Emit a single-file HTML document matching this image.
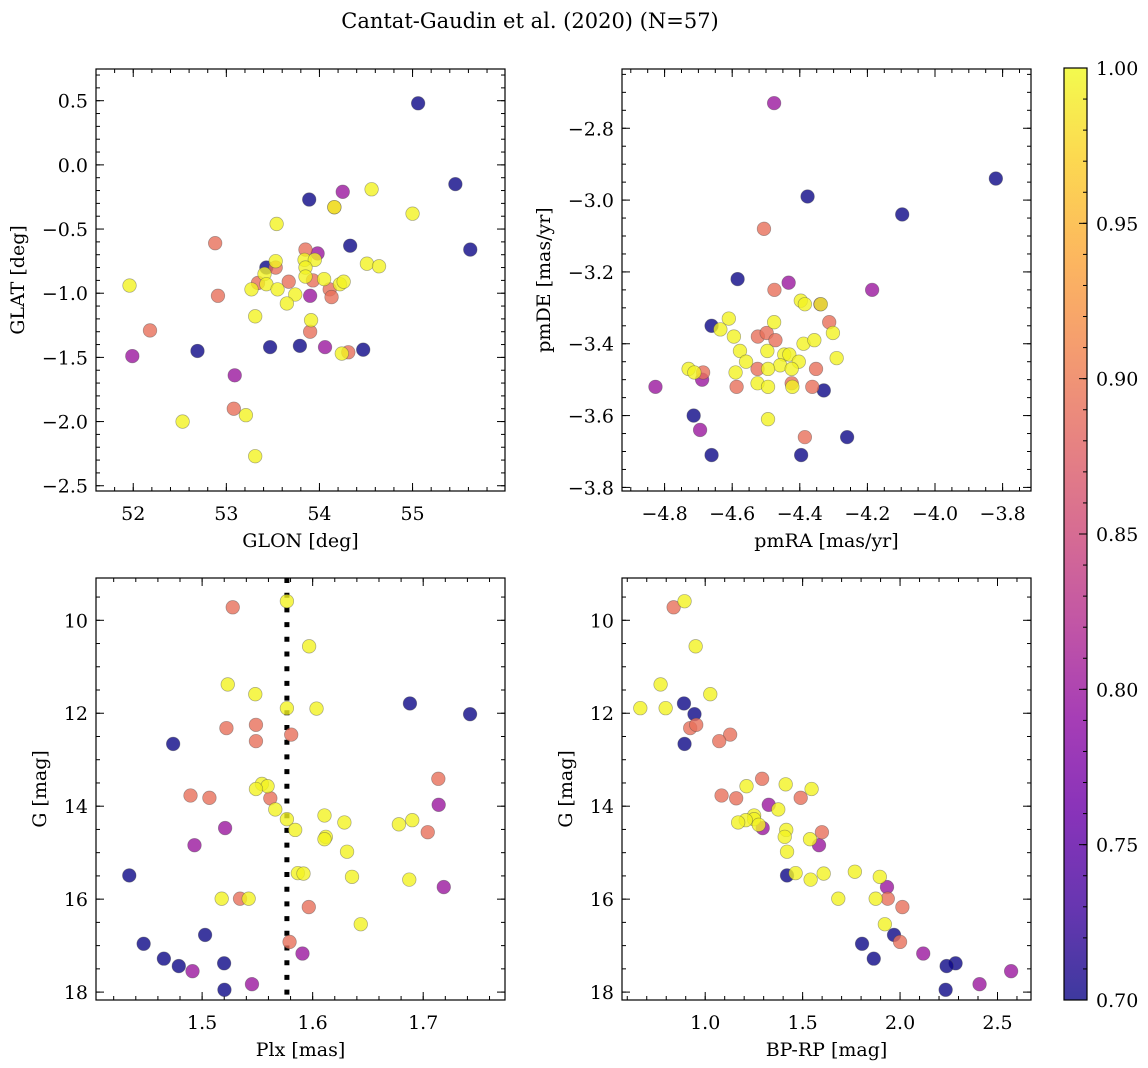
<!DOCTYPE html>
<html><head><meta charset="utf-8">
<style>
html,body{margin:0;padding:0;background:#fff;}
svg{display:block;font-family:"DejaVu Serif","Liberation Serif",serif;}
</style></head>
<body>
<svg id="fig" width="1148" height="1068" viewBox="0 0 1148 1068" xmlns="http://www.w3.org/2000/svg">
<text x="530" y="28" font-size="21" text-anchor="middle">Cantat-Gaudin et al. (2020) (N=57)</text>
<defs>
<linearGradient id="cbgrad" x1="0" y1="1" x2="0" y2="0">
<stop offset="0" stop-color="#0d0887"/><stop offset="0.1" stop-color="#41049d"/><stop offset="0.2" stop-color="#6a00a8"/><stop offset="0.3" stop-color="#8f0da4"/><stop offset="0.4" stop-color="#b12a90"/><stop offset="0.5" stop-color="#cc4778"/><stop offset="0.6" stop-color="#e16462"/><stop offset="0.7" stop-color="#f2844b"/><stop offset="0.8" stop-color="#fca636"/><stop offset="0.9" stop-color="#fcce25"/><stop offset="1" stop-color="#f0f921"/>
</linearGradient>
</defs>
<g id="layer"></g>
</svg>
<script>
// ---- Panel 1: GLON vs GLAT ----
const p1Glon=[55.06,55.46,55.62,54.25,54.56,53.89,54.16,54.16,53.54,55.0,52.88,54.33,53.85,53.98,53.84,53.95,53.43,53.53,53.53,54.51,54.64,53.85,53.41,53.93,53.85,54.05,53.34,53.43,53.67,54.22,54.26,54.11,54.13,53.90,53.27,53.55,53.74,53.65,52.91,51.96,53.31,53.91,53.90,52.18,51.99,52.69,53.47,53.79,54.06,54.31,54.24,54.47,53.09,53.08,53.21,52.53,53.31];
const p1Glat=[0.48,-0.15,-0.66,-0.21,-0.19,-0.27,-0.33,-0.33,-0.46,-0.38,-0.61,-0.63,-0.66,-0.69,-0.74,-0.74,-0.80,-0.80,-0.75,-0.77,-0.79,-0.80,-0.85,-0.90,-0.87,-0.89,-0.92,-0.93,-0.91,-0.93,-0.91,-0.97,-1.03,-1.02,-0.97,-0.97,-1.01,-1.08,-1.02,-0.94,-1.18,-1.21,-1.30,-1.29,-1.49,-1.45,-1.42,-1.41,-1.42,-1.46,-1.47,-1.44,-1.64,-1.90,-1.95,-2.00,-2.27];
const p1Prob=[0.70,0.70,0.70,0.80,0.995,0.70,0.89,0.995,0.995,0.995,0.89,0.70,0.89,0.80,0.995,0.995,0.70,0.89,0.995,0.995,0.995,0.995,0.995,0.89,0.995,0.995,0.89,0.995,0.89,0.995,0.995,0.89,0.89,0.80,0.995,0.995,0.995,0.995,0.89,0.995,0.995,0.995,0.89,0.89,0.80,0.70,0.70,0.70,0.80,0.89,0.995,0.70,0.80,0.89,0.995,0.995,0.995];
// ---- Panel 2: pmRA vs pmDE ----
const p2PmRA=[-4.476,-3.82,-4.377,-4.097,-4.506,-4.584,-4.433,-4.475,-4.186,-4.397,-4.385,-4.339,-4.338,-4.313,-4.661,-4.610,-4.635,-4.476,-4.595,-4.524,-4.498,-4.472,-4.389,-4.357,-4.302,-4.577,-4.496,-4.446,-4.431,-4.559,-4.403,-4.291,-4.458,-4.424,-4.494,-4.525,-4.352,-4.729,-4.686,-4.712,-4.590,-4.689,-4.827,-4.525,-4.494,-4.587,-4.424,-4.422,-4.363,-4.329,-4.714,-4.695,-4.494,-4.385,-4.260,-4.661,-4.396];
const p2PmDE=[-2.73,-2.94,-2.99,-3.04,-3.08,-3.22,-3.23,-3.25,-3.25,-3.28,-3.29,-3.29,-3.29,-3.34,-3.35,-3.33,-3.36,-3.34,-3.38,-3.38,-3.37,-3.39,-3.40,-3.39,-3.37,-3.42,-3.42,-3.43,-3.43,-3.45,-3.45,-3.44,-3.46,-3.47,-3.47,-3.47,-3.47,-3.47,-3.48,-3.48,-3.48,-3.50,-3.52,-3.51,-3.52,-3.52,-3.51,-3.52,-3.52,-3.53,-3.60,-3.64,-3.61,-3.66,-3.66,-3.71,-3.71];
const p2Prob=[0.80,0.70,0.70,0.70,0.89,0.70,0.80,0.89,0.80,0.995,0.995,0.80,0.995,0.89,0.70,0.995,0.995,0.995,0.995,0.89,0.89,0.89,0.995,0.995,0.995,0.995,0.995,0.995,0.995,0.995,0.995,0.995,0.995,0.995,0.995,0.89,0.89,0.995,0.89,0.995,0.995,0.80,0.80,0.995,0.995,0.89,0.89,0.995,0.89,0.70,0.70,0.80,0.995,0.89,0.70,0.70,0.70];
// ---- Panel 3: Plx vs G ----
const p3Plx=[1.5767,1.5277,1.5968,1.5232,1.5481,1.5767,1.6035,1.6880,1.7424,1.5220,1.5487,1.5806,1.5487,1.4738,1.7137,1.5541,1.5592,1.5487,1.4895,1.5066,1.5617,1.7140,1.5662,1.6107,1.5767,1.6287,1.6780,1.6901,1.5208,1.7041,1.5842,1.6119,1.6107,1.4931,1.6311,1.4341,1.5866,1.5917,1.6356,1.6874,1.7186,1.5177,1.5343,1.5421,1.5965,1.6435,1.5027,1.5791,1.4471,1.5908,1.4654,1.4789,1.4913,1.5199,1.5451,1.5202];
const p3G=[9.59,9.72,10.56,11.38,11.59,11.89,11.90,11.79,12.02,12.32,12.25,12.46,12.60,12.66,13.41,13.52,13.57,13.63,13.77,13.82,13.83,13.97,14.07,14.20,14.28,14.35,14.39,14.30,14.47,14.56,14.51,14.66,14.71,14.84,14.98,15.49,15.44,15.45,15.52,15.58,15.74,15.99,15.99,15.99,16.17,16.54,16.77,16.92,16.96,17.17,17.28,17.44,17.55,17.38,17.83,17.95];
const p3Prob=[0.995,0.89,0.995,0.995,0.995,0.995,0.995,0.70,0.70,0.89,0.89,0.89,0.89,0.70,0.89,0.995,0.995,0.995,0.89,0.89,0.89,0.80,0.995,0.995,0.995,0.995,0.995,0.995,0.80,0.89,0.995,0.995,0.995,0.80,0.995,0.70,0.995,0.995,0.995,0.995,0.80,0.995,0.89,0.995,0.89,0.995,0.70,0.89,0.70,0.80,0.70,0.70,0.80,0.70,0.80,0.70];
const plxMean=1.5767;
// ---- Panel 4: BP-RP vs G ----
const p4Color=[0.894,0.838,0.951,0.771,1.026,0.667,0.797,0.891,0.945,0.923,0.954,1.128,1.072,0.894,1.292,1.413,1.546,1.212,1.084,1.159,1.490,1.326,1.375,1.251,1.251,1.208,1.169,1.295,1.275,1.599,1.416,1.408,1.538,1.584,1.420,1.420,1.464,1.608,1.541,1.768,1.896,1.933,1.683,1.875,1.937,2.012,1.922,1.969,2.000,1.805,2.119,1.865,2.285,2.239,2.570,2.408,2.234];
const p4G=[9.59,9.72,10.56,11.38,11.59,11.89,11.89,11.79,12.02,12.32,12.25,12.46,12.60,12.66,13.41,13.53,13.63,13.57,13.77,13.83,13.82,13.97,14.07,14.20,14.28,14.30,14.35,14.47,14.40,14.56,14.51,14.66,14.71,14.84,14.98,15.49,15.44,15.45,15.58,15.41,15.52,15.74,15.99,15.99,15.99,16.17,16.54,16.77,16.92,16.96,17.17,17.28,17.38,17.44,17.55,17.83,17.95];
const p4Prob=[0.995,0.89,0.995,0.995,0.995,0.995,0.995,0.70,0.70,0.89,0.89,0.89,0.89,0.70,0.89,0.995,0.995,0.995,0.89,0.89,0.89,0.80,0.995,0.995,0.995,0.995,0.995,0.80,0.995,0.89,0.995,0.995,0.995,0.80,0.995,0.70,0.995,0.995,0.995,0.995,0.995,0.80,0.995,0.995,0.89,0.89,0.995,0.70,0.89,0.70,0.80,0.70,0.70,0.70,0.80,0.80,0.70];
// ---- Colorbar ticks ----
const cbTicks=[0.70,0.75,0.80,0.85,0.90,0.95,1.00];

const NS="http://www.w3.org/2000/svg";
const layer=document.getElementById('layer');
const FS=19;
function el(tag,attrs,parent){const e=document.createElementNS(NS,tag);for(const k in attrs)e.setAttribute(k,attrs[k]);(parent||layer).appendChild(e);return e;}
const stops=[[13,8,135],[65,4,157],[106,0,168],[143,13,164],[177,42,144],[204,71,120],[225,100,98],[242,132,75],[252,166,54],[252,206,37],[240,249,33]];
function plasma(t){t=Math.max(0,Math.min(1,t));const f=t*10,i=Math.min(9,Math.floor(f)),u=f-i;const a=stops[i],b=stops[i+1];return 'rgb('+a.map((v,k)=>Math.round(v+(b[k]-v)*u)).join(',')+')';}
const vmin=0.70,vmax=1.00;

function panel(cfg){
  const g=el('g',{});
  
  
  const L=cfg.left,T=cfg.top,W=cfg.w,H=cfg.h;
  const sx=v=>L+(v-cfg.x0)/(cfg.x1-cfg.x0)*W;
  const sy=v=>cfg.yinv? T+(v-cfg.y0)/(cfg.y1-cfg.y0)*H : T+H-(v-cfg.y0)/(cfg.y1-cfg.y0)*H;
  const tg=el('g',{stroke:'#000','stroke-width':1},g);
  const xmin=Math.min(cfg.x0,cfg.x1),xmax=Math.max(cfg.x0,cfg.x1);
  const ymn=Math.min(cfg.y0,cfg.y1),ymx=Math.max(cfg.y0,cfg.y1);
  function range(a,b,s){const r=[];const st=Math.ceil(a/s-1e-6);for(let k=st;k*s<=b+1e-9;k++)r.push(+(k*s).toFixed(6));return r;}
  range(xmin,xmax,cfg.xminor).forEach(v=>{const x=sx(v);el('line',{x1:x,x2:x,y1:T+H,y2:T+H-4},tg);el('line',{x1:x,x2:x,y1:T,y2:T+4},tg);});
  range(ymn,ymx,cfg.yminor).forEach(v=>{const y=sy(v);el('line',{x1:L,x2:L+4,y1:y,y2:y},tg);el('line',{x1:L+W,x2:L+W-4,y1:y,y2:y},tg);});
  cfg.xticks.forEach(v=>{const x=sx(v);el('line',{x1:x,x2:x,y1:T+H,y2:T+H-8},tg);el('line',{x1:x,x2:x,y1:T,y2:T+8},tg);
    const t=el('text',{x:x,y:T+H+29,'font-size':FS,'text-anchor':'middle'},g);t.textContent=cfg.xfmt(v).replace('-','\u2212');
    
    });
  cfg.yticks.forEach(v=>{const y=sy(v);el('line',{x1:L,x2:L+8,y1:y,y2:y},tg);el('line',{x1:L+W,x2:L+W-8,y1:y,y2:y},tg);
    const t=el('text',{x:L-8,y:y+7,'font-size':FS,'text-anchor':'end'},g);t.textContent=cfg.yfmt(v).replace('-','\u2212');
    
    });
  if(cfg.vline!==undefined){const x=sx(cfg.vline);const ln=el('line',{x1:x,x2:x,y1:T,y2:T+H,stroke:'#000','stroke-width':5,'stroke-dasharray':'5 9.7'},g);
    
    }
  const idx=cfg.xs.map((_,i)=>i).sort((a,b)=>cfg.ps[a]-cfg.ps[b]);
  const pg=el('g',{},g);
  idx.forEach(i=>{
    const c=el('circle',{cx:sx(cfg.xs[i]),cy:sy(cfg.ys[i]),r:6.8,fill:plasma((cfg.ps[i]-vmin)/(vmax-vmin)),'fill-opacity':0.8,stroke:'rgba(70,70,70,0.45)','stroke-width':0.7},pg);
    
    
  });
  el('rect',{x:L,y:T,width:W,height:H,fill:'none',stroke:'#000','stroke-width':1.2},g);
  const xl=el('text',{x:L+W/2,y:T+H+56,'font-size':FS,'text-anchor':'middle'},g);xl.textContent=cfg.xlabel;
  
  
  const yx=cfg.ylx,yy=T+H/2;
  const yl=el('text',{x:yx,y:yy,'font-size':FS,'text-anchor':'middle',transform:'rotate(-90 '+yx+' '+yy+')'},g);yl.textContent=cfg.ylabel;
  
  
}
const f1=v=>v.toFixed(1),f0=v=>v.toFixed(0);
panel({name:'glon-glat-panel',left:96,top:69,w:409,h:422,x0:51.6,x1:55.993,y0:-2.541,y1:0.747,xticks:[52,53,54,55],xminor:0.2,yticks:[0.5,0,-0.5,-1,-1.5,-2,-2.5],yminor:0.1,xfmt:f0,yfmt:f1,xs:p1Glon,ys:p1Glat,ps:p1Prob,xlabel:'GLON [deg]',ylabel:'GLAT [deg]',ylx:24});
panel({name:'proper-motion-panel',left:622,top:69,w:409,h:422,x0:-4.926,x1:-3.716,y0:-3.810,y1:-2.635,xticks:[-4.8,-4.6,-4.4,-4.2,-4.0,-3.8],xminor:0.05,yticks:[-2.8,-3.0,-3.2,-3.4,-3.6,-3.8],yminor:0.05,xfmt:f1,yfmt:f1,xs:p2PmRA,ys:p2PmDE,ps:p2Prob,xlabel:'pmRA [mas/yr]',ylabel:'pmDE [mas/yr]',ylx:550});
panel({name:'parallax-magnitude-panel',left:96,top:578,w:409,h:422,x0:1.404,x1:1.774,y0:9.09,y1:18.17,yinv:true,xticks:[1.5,1.6,1.7],xminor:0.02,yticks:[10,12,14,16,18],yminor:0.5,xfmt:f1,yfmt:f0,xs:p3Plx,ys:p3G,ps:p3Prob,xlabel:'Plx [mas]',ylabel:'G [mag]',ylx:46,vline:plxMean});
panel({name:'color-magnitude-panel',left:622,top:578,w:409,h:422,x0:0.573,x1:2.672,y0:9.09,y1:18.17,yinv:true,xticks:[1.0,1.5,2.0,2.5],xminor:0.1,yticks:[10,12,14,16,18],yminor:0.5,xfmt:f1,yfmt:f0,xs:p4Color,ys:p4G,ps:p4Prob,xlabel:'BP-RP [mag]',ylabel:'G [mag]',ylx:572});

(function(){
  const L=1064,T=68,W=23,H=932;
  const g=el('g',{});
  
  
  el('rect',{x:L,y:T,width:W,height:H,fill:'url(#cbgrad)','fill-opacity':0.8},g);
  const sy=v=>T+H-(v-vmin)/(vmax-vmin)*H;
  for(let k=70;k<=100;k++){const y=sy(k/100);el('line',{x1:L+W,x2:L+W-4,y1:y,y2:y,stroke:'#000','stroke-width':1},g);}
  cbTicks.forEach(v=>{const y=sy(v);el('line',{x1:L+W,x2:L+W-8,y1:y,y2:y,stroke:'#000','stroke-width':1},g);
    const t=el('text',{x:L+W+9,y:y+7,'font-size':FS},g);t.textContent=v.toFixed(2);
    
    });
  el('rect',{x:L,y:T,width:W,height:H,fill:'none',stroke:'#000','stroke-width':1.2},g);
})();
</script>
</body></html>
